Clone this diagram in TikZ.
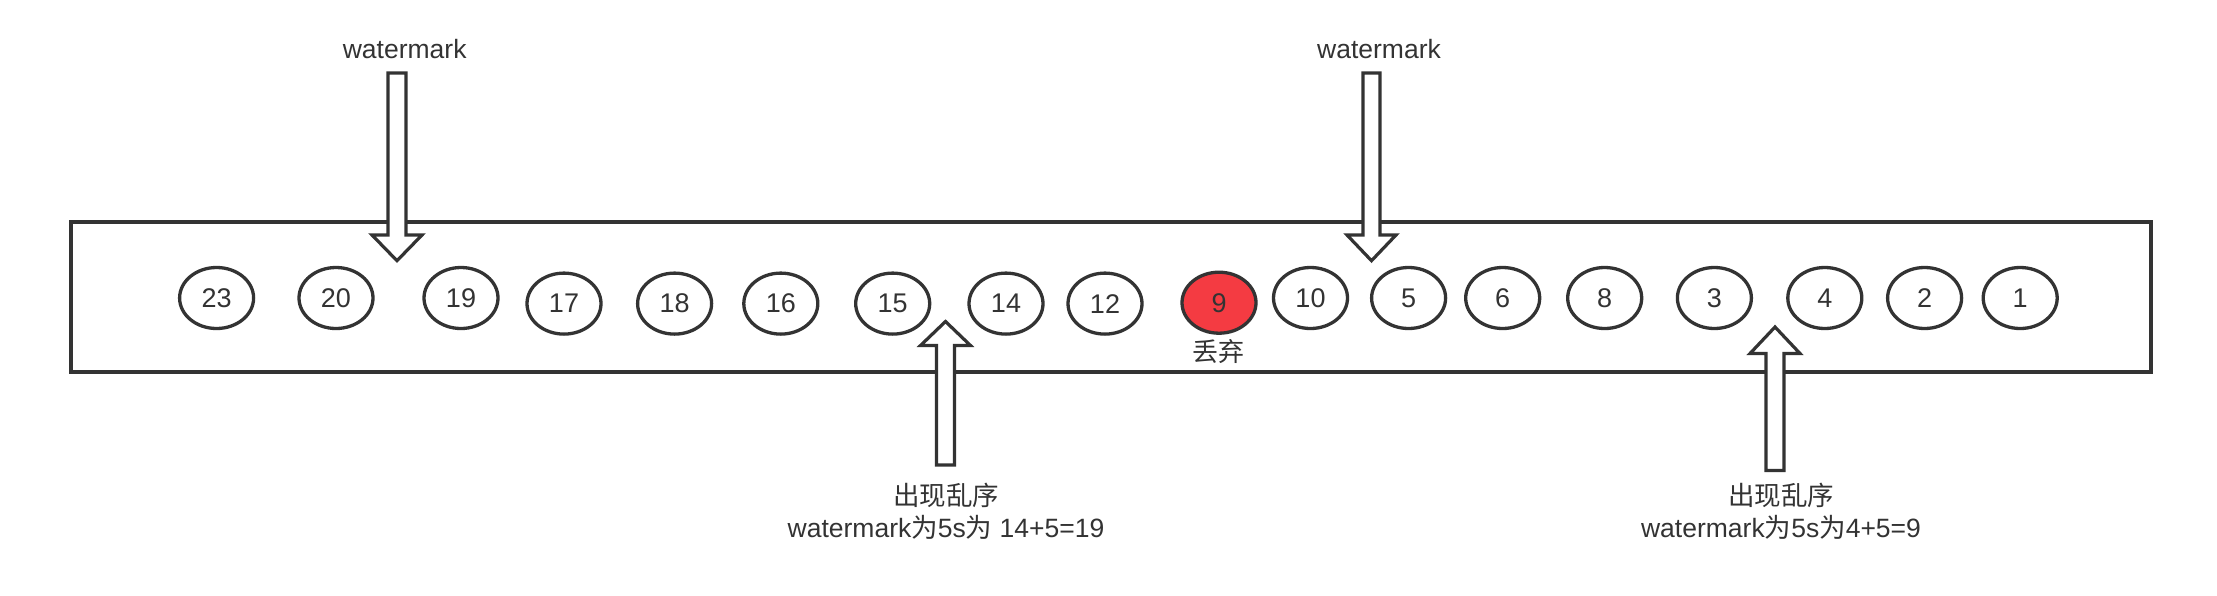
\documentclass[tikz,border=0pt]{standalone}
\usepackage{fontspec}
\usetikzlibrary{shapes.geometric}
\setmainfont{Liberation Sans}
\newfontfamily\cjk{Noto Sans CJK SC}
\definecolor{ln}{HTML}{333333}
\definecolor{redfill}{RGB}{244,59,66}
\begin{document}
\begin{tikzpicture}[x=1pt,y=-1pt,
  ev/.style={ellipse,draw=ln,line width=3.3pt,fill=white,minimum width=74pt,minimum height=61pt,inner sep=0pt,font=\fontsize{27}{30}\selectfont,text=ln},
  lbl/.style={font=\fontsize{26.5}{32.5}\selectfont,text=ln,align=center,inner sep=0pt},
  blockarrow/.style={draw=ln,line width=3.2pt,fill=white,line join=miter}]
\useasboundingbox (0,0) rectangle (2217,595);
\node[draw=ln,line width=3.3pt,minimum width=2080pt,minimum height=150pt,inner sep=0pt] (stream) at (1111,297) {};
% events
\foreach \n/\x/\y in {23/216.6/298, 20/336/298, 19/461/298, 17/564/303.6, 18/674.6/303.6, 16/780.8/303.6, 15/892.7/303.6, 14/1006/303.6, 12/1105/303.6, 10/1310.5/298, 5/1408.6/298, 6/1502.7/298, 8/1604.7/298, 3/1714.4/298, 4/1824.8/298, 2/1924.6/298, 1/2020.2/298}
  {\node[ev] (e\n) at (\x,\y) {\n};}
\node[ev,fill=redfill] (e9) at (1219,302.7) {9};
\node[lbl,font=\fontsize{26}{30}\selectfont\cjk] (drop) at (1218,352) {丢弃};
% down arrows
\node[lbl] (wm1) at (404.7,48.6) {watermark};
\draw[blockarrow] (388,73) -- (406,73) -- (406,235) -- (422,235) -- (397,260.7) -- (372,235) -- (388,235) -- cycle;
\node[lbl] (wm2) at (1379,48.6) {watermark};
\draw[blockarrow] (1363,73) -- (1380,73) -- (1380,235) -- (1396,235) -- (1371.5,260.7) -- (1347,235) -- (1363,235) -- cycle;
% up arrows
\draw[blockarrow] (936.5,465) -- (954.5,465) -- (954.5,345.5) -- (970.5,345.5) -- (945.5,321.5) -- (920.5,345.5) -- (936.5,345.5) -- cycle;
\node[lbl] (ooo1) at (946,511) {{\cjk 出现乱序}\\watermark{\cjk 为}5s{\cjk 为} 14+5=19};
\draw[blockarrow] (1766,470.5) -- (1784,470.5) -- (1784,353.5) -- (1800,353.5) -- (1775,327) -- (1750,353.5) -- (1766,353.5) -- cycle;
\node[lbl] (ooo2) at (1781,511) {{\cjk 出现乱序}\\watermark{\cjk 为}5s{\cjk 为}4+5=9};
\end{tikzpicture}
\end{document}
